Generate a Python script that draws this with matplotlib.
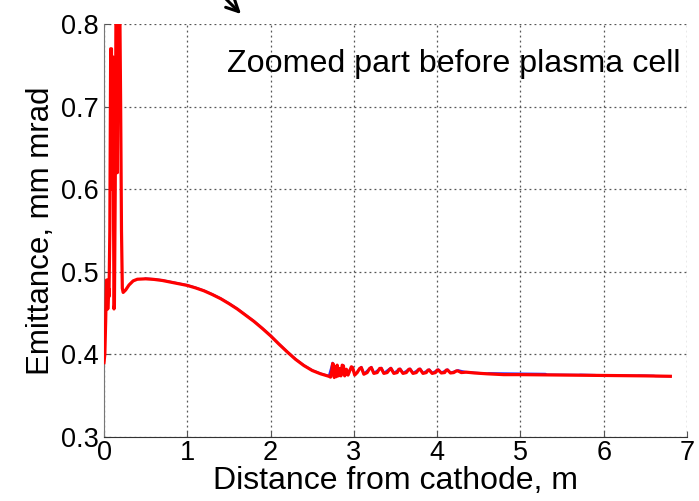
import matplotlib
matplotlib.use("Agg")
import matplotlib.pyplot as plt

# ---- data ----
red_x = [0.0, 0.01, 0.02, 0.03, 0.04, 0.045, 0.055, 0.06, 0.07, 0.08, 0.09, 0.095,
         0.10, 0.11, 0.115, 0.12, 0.125, 0.135, 0.145, 0.155, 0.16, 0.17, 0.18,
         0.19, 0.20, 0.21, 0.22, 0.23, 0.26, 0.30, 0.35, 0.40, 0.50, 0.60, 0.70,
         0.80, 0.90, 1.0, 1.1, 1.2, 1.3, 1.4, 1.5, 1.6, 1.7, 1.8, 1.9, 2.0, 2.1,
         2.2, 2.3, 2.4, 2.5, 2.6, 2.7, 2.72, 2.735, 2.745, 2.755, 2.765, 2.78,
         2.79, 2.80, 2.815, 2.83, 2.845, 2.86, 2.875, 2.89, 2.91, 2.93, 2.95,
         2.97, 2.985, 3.01, 3.04, 3.07, 3.09, 3.12, 3.16, 3.19, 3.21, 3.24, 3.28,
         3.31, 3.33, 3.36, 3.40, 3.43, 3.445, 3.48, 3.52, 3.54, 3.555, 3.59,
         3.63, 3.66, 3.675, 3.71, 3.75, 3.78, 3.795, 3.83, 3.87, 3.89, 3.905,
         3.94, 3.98, 4.00, 4.015, 4.05, 4.09, 4.11, 4.125, 4.16, 4.20, 4.23,
         4.25, 4.29, 4.35, 4.45, 4.6, 4.8, 5.0, 5.5, 6.0, 6.5, 6.8]
red_y = [0.39, 0.40, 0.44, 0.49, 0.49, 0.455, 0.48, 0.47, 0.55, 0.77, 0.77, 0.60,
         0.70, 0.76, 0.56, 0.455, 0.46, 0.60, 0.85, 0.88, 0.62, 0.84, 0.90,
         0.82, 0.70, 0.55, 0.48, 0.475, 0.478, 0.484, 0.489, 0.491, 0.4915,
         0.4908, 0.4895, 0.4875, 0.4855, 0.4835, 0.4805, 0.477, 0.4725, 0.4675,
         0.4615, 0.455, 0.4475, 0.44, 0.4315, 0.4225, 0.4125, 0.403, 0.394,
         0.3865, 0.3805, 0.3765, 0.3735, 0.3725, 0.380, 0.389, 0.388, 0.372,
         0.385, 0.373, 0.387, 0.374, 0.383, 0.374, 0.387, 0.386, 0.374, 0.382,
         0.375, 0.380, 0.385, 0.384, 0.375, 0.378, 0.383, 0.384, 0.376, 0.378,
         0.383, 0.384, 0.377, 0.378, 0.383, 0.383, 0.377, 0.378, 0.382, 0.383,
         0.377, 0.378, 0.382, 0.382, 0.377, 0.378, 0.382, 0.382, 0.377, 0.378,
         0.382, 0.382, 0.377, 0.378, 0.381, 0.381, 0.377, 0.378, 0.381, 0.381,
         0.3775, 0.378, 0.381, 0.381, 0.3775, 0.378, 0.380, 0.380, 0.378,
         0.3785, 0.3775, 0.3765, 0.3755, 0.3755, 0.375, 0.3745, 0.374, 0.3735]

# blue series: nearly hidden under the red one, visible only where it
# deviates slightly (oscillation peaks and a few steps in the tail)
blue_x = [0.5, 0.6, 0.7, 0.8, 0.9, 1.0, 1.1, 1.2, 1.3, 1.4, 1.5, 1.6, 1.7,
          1.8, 1.9, 2.0, 2.1, 2.2, 2.3, 2.4, 2.5, 2.6, 2.7, 2.745, 2.765,
          2.875, 2.89, 2.985, 3.01, 3.09, 3.12, 3.21, 3.24, 3.33, 3.36, 3.445,
          3.48, 3.555, 3.59, 3.675, 3.71, 3.795, 3.83, 3.905, 3.94, 4.015,
          4.05, 4.125, 4.16, 4.25, 4.35, 4.45, 4.6, 4.62, 5.3, 5.32, 5.7,
          5.72, 5.9, 5.92, 6.4, 6.42, 6.6, 6.62, 6.8]
blue_y = [0.4918, 0.4911, 0.4898, 0.4878, 0.4858, 0.4838, 0.4808, 0.4773,
          0.4728, 0.4678, 0.4618, 0.4553, 0.4478, 0.4403, 0.4318, 0.4228,
          0.4128, 0.4033, 0.3943, 0.3868, 0.3808, 0.3768, 0.3738, 0.3898,
          0.3725, 0.3868, 0.3745, 0.3848, 0.3755, 0.3848, 0.3765, 0.3848,
          0.3775, 0.3838, 0.3775, 0.3838, 0.3775, 0.3828, 0.3775, 0.3828,
          0.3775, 0.3828, 0.3775, 0.3818, 0.3775, 0.3818, 0.3778, 0.3818,
          0.3778, 0.3808, 0.3785, 0.3778, 0.3768, 0.3772, 0.3764, 0.3755,
          0.3752, 0.3754, 0.3750, 0.3747, 0.3742, 0.3744, 0.3741, 0.3738,
          0.3736]

x_ticks = [0, 1, 2, 3, 4, 5, 6, 7]
y_ticks = [0.3, 0.4, 0.5, 0.6, 0.7, 0.8]
y_tick_labels = ["0.3", "0.4", "0.5", "0.6", "0.7", "0.8"]

plt.rcParams['font.family'] = ['Liberation Sans', 'DejaVu Sans']

fig = plt.figure(figsize=(6.99, 5.01), dpi=100)
ax = fig.add_axes([104/699, 1 - 437/501, (687-104)/699, (437-24)/501])

ax.plot(blue_x, blue_y, color='#3030ff', lw=1.6, zorder=3)
ax.plot(red_x, red_y, color='#ff0000', lw=2.3, zorder=4)

ax.set_xlim(0, 7)
ax.set_ylim(0.3, 0.8)
ax.set_xticks(x_ticks)
ax.set_yticks(y_ticks)
ax.set_yticklabels(y_tick_labels)
ax.grid(True, linestyle=(0, (1.5, 2.5)), color='#555555', lw=0.9)
ax.set_axisbelow(True)

for s in ['top', 'right']:
    ax.spines[s].set_visible(False)
ax.spines['left'].set_color('#777777')
ax.spines['bottom'].set_color('#333333')
ax.tick_params(direction='in', length=4, width=0.8, labelsize=19.5,
               color='#555555', pad=2)
ax.tick_params(axis='y', pad=4)

ax.set_xlabel("Distance from cathode, m", fontsize=23, labelpad=0)
ax.set_ylabel("Emittance, mm mrad", fontsize=22.5, labelpad=3)

ax.text(0.988, 0.902, "Zoomed part before plasma cell", transform=ax.transAxes,
        ha='right', va='center', fontsize=23.2)

ax.annotate("", xy=(243, 485), xycoords='figure pixels',
            xytext=(220, 508), textcoords='figure pixels',
            arrowprops=dict(arrowstyle='->', lw=2.2, color='black',
                            mutation_scale=22),
            annotation_clip=False)

fig.savefig("out.png", dpi=100)
